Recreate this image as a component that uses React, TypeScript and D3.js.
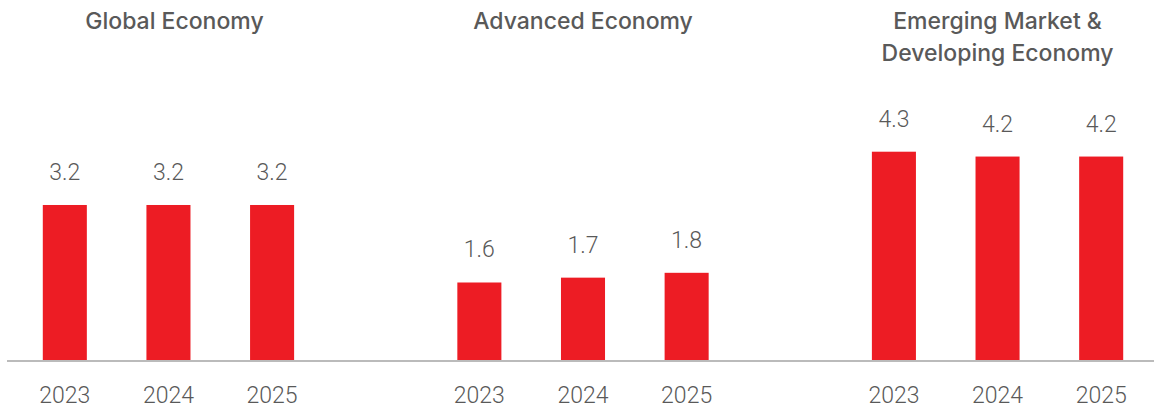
import React from "react";
import * as d3 from "d3";

const groups = ["Global Economy", "Advanced Economy", "Emerging Market & Developing Economy"];
const groupTitleLines = [["Global Economy"], ["Advanced Economy"], ["Emerging Market &", "Developing Economy"]];
const years = ["2023", "2024", "2025"];
const globalValues = [3.2, 3.2, 3.2];
const advancedValues = [1.6, 1.7, 1.8];
const emergingValues = [4.3, 4.2, 4.2];

const seriesValues = [globalValues, advancedValues, emergingValues];

const W = 1155;
const H = 409;
const RED = "#ED1C24";
const TEXT = "#595959";
const BASE_Y = 360;
const titleDx = [6, 0, 0];

export default function App() {
  const slots: string[] = [];
  groups.forEach((g, gi) => {
    years.forEach((y) => slots.push(`${gi}|${y}`));
    if (gi < groups.length - 1) slots.push(`gap${gi}`);
  });

  const x = d3
    .scaleBand<string>()
    .domain(slots)
    .range([13, 1153])
    .paddingInner(0.575)
    .paddingOuter(0.2875);

  const y = d3.scaleLinear().domain([0, 5]).range([BASE_Y, BASE_Y - 5 * 48.44]);

  const bars = groups.flatMap((g, gi) =>
    years.map((yr, yi) => ({ key: `${gi}|${yr}`, year: yr, value: seriesValues[gi][yi], gi }))
  );

  const fontLight = "Roboto, 'Liberation Sans', sans-serif";
  const fontTitle = "Inter, 'Liberation Sans', sans-serif";

  return (
    <svg
      width={W}
      height={H}
      style={{ position: "absolute", left: 0, top: 0, display: "block", background: "#fff" }}
    >
      {groups.map((g, gi) => {
        const first = x(`${gi}|${years[0]}`)!;
        const last = x(`${gi}|${years[years.length - 1]}`)! + x.bandwidth();
        const cx = (first + last) / 2 + titleDx[gi];
        return (
          <text
            key={g}
            x={cx}
            y={29}
            textAnchor="middle"
            fill={TEXT}
            style={{ fontFamily: fontTitle, fontWeight: 500, fontSize: 23 }}
          >
            {groupTitleLines[gi].map((line, li) => (
              <tspan key={li} x={cx} dy={li === 0 ? 0 : 32}>
                {line}
              </tspan>
            ))}
          </text>
        );
      })}

      {bars.map((b) => (
        <rect
          key={b.key}
          x={x(b.key)}
          y={y(b.value)}
          width={x.bandwidth()}
          height={BASE_Y - y(b.value)}
          fill={RED}
        />
      ))}

      {bars.map((b) => (
        <text
          key={`v${b.key}`}
          x={x(b.key)! + x.bandwidth() / 2}
          y={y(b.value) - 25}
          textAnchor="middle"
          fill={TEXT}
          style={{ fontFamily: fontLight, fontWeight: 300, fontSize: 23 }}
        >
          {b.value.toFixed(1)}
        </text>
      ))}

      <line x1={7} x2={1154} y1={BASE_Y + 1} y2={BASE_Y + 1} stroke="#BBBBBB" strokeWidth={2} />

      {bars.map((b) => (
        <text
          key={`y${b.key}`}
          x={x(b.key)! + x.bandwidth() / 2}
          y={403}
          textAnchor="middle"
          fill={TEXT}
          style={{ fontFamily: fontLight, fontWeight: 300, fontSize: 23 }}
        >
          {b.year}
        </text>
      ))}
    </svg>
  );
}
